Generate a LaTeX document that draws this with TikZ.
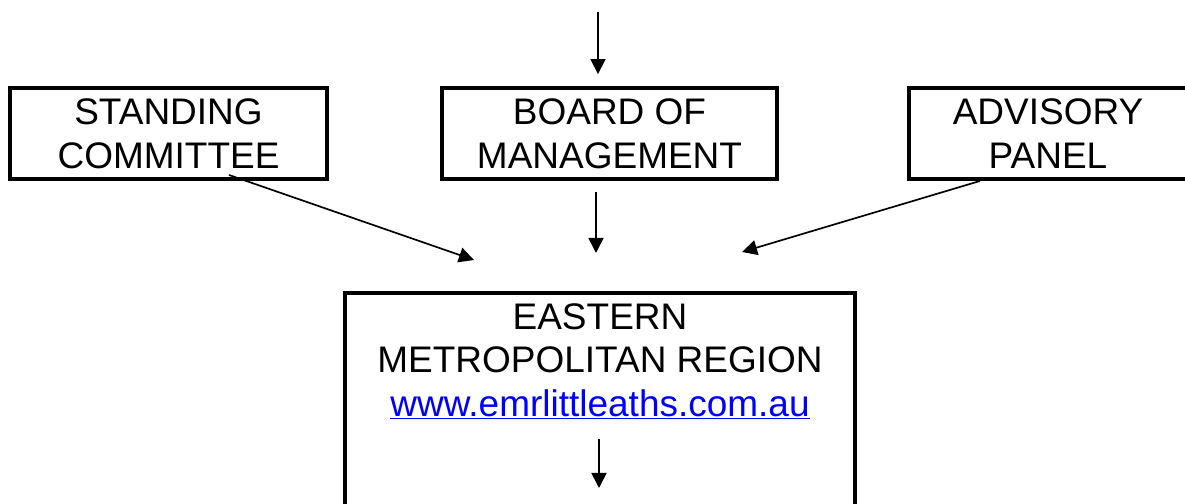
\documentclass[tikz,border=0pt]{standalone}
\usepackage{fontspec}
\setmainfont{Liberation Sans}
\usetikzlibrary{arrows.meta,calc}

\begin{document}
\begin{tikzpicture}[x=0.025cm,y=0.025cm,
    box/.style={draw, line width=2.8pt, align=center, inner sep=0pt, minimum height=2.275cm},
    flow/.style={line width=1.2pt, -{Triangle[length=10.7pt,width=10.7pt]}},
    font=\fontsize{26.3pt}{31pt}\selectfont]
    \path[use as bounding box](0,0)rectangle(1185,504);
    \clip(0,0)rectangle(1185,504);

    \node[box, minimum width=7.925cm](stand)at(168.5,370.5){STANDING\\COMMITTEE};
    \node[box, minimum width=8.375cm](board)at(609.5,370.5){BOARD OF\\MANAGEMENT};
    \node[box, minimum width=6.95cm](advis)at(1048,370.5){ADVISORY\\PANEL};
    \node[align=center, minimum width=12.75cm, inner xsep=0pt, inner ysep=7.1pt, anchor=north](region)at(600,211)
        {EASTERN\\METROPOLITAN REGION\\{\color{blue}\underline{www.emrlittleaths.com.au}}};
    \draw[line width=2.8pt]($(region.north west)+(0,-300)$)--(region.north west)--(region.north east)--++(0,-300);

    \coordinate(topin)at(598,492);
    \coordinate(regout)at($(region.north)+(-1,-195)$);
    \draw[flow, shorten >=8.5pt](topin)--(topin|-board.north);
    \draw[flow]($(board.south)+(-13.5,-11)$)--($(region.north)+(-4,40)$);
    \draw[flow]($(stand.south)+(60.5,6)$)--($(region.north)+(-126,33)$);
    \draw[flow]($(advis.south)+(-68,0)$)--($(region.north)+(142,41)$);
    \draw[flow]($(region.north)+(-1,-146)$)--(regout);
\end{tikzpicture}
\end{document}
